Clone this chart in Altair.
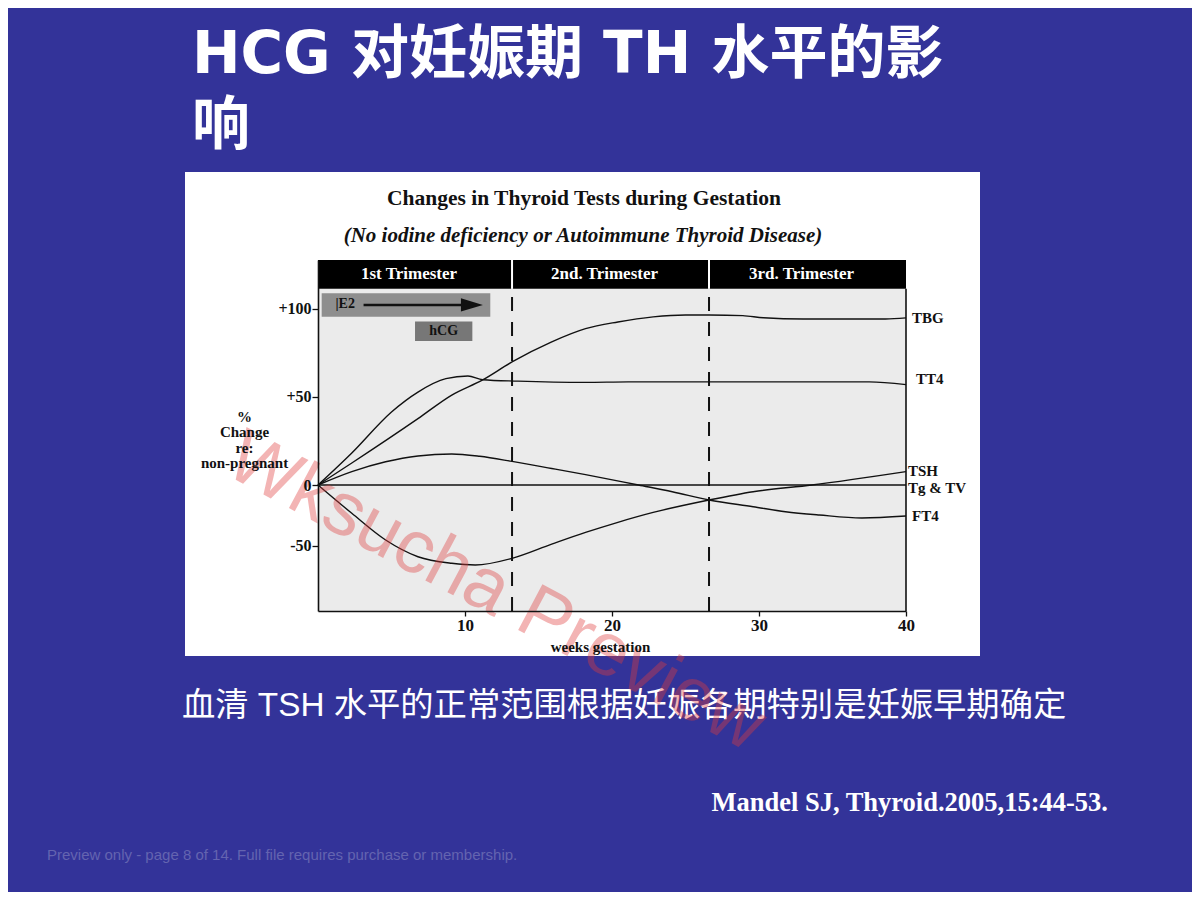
import altair as alt
import pandas as pd

# ---------------- data ----------------
series_names = ["TBG", "TT4", "TSH", "FT4", "Tg & TV"]

tbg_weeks = [0, 2.3, 6.8, 9.1, 11.2, 13.2, 15.9, 18.2, 20.4, 22.8, 25.0, 26.6, 28.9, 30.3, 33.0, 38.6, 40]
tbg_vals = [0, 12.5, 37.7, 51.1, 59.7, 69.9, 81.3, 88.8, 92.6, 95.5, 96.6, 96.6, 96.2, 95.0, 94.3, 94.3, 94.9]

tt4_weeks = [0, 2.3, 5.0, 6.8, 8.7, 10.2, 11.2, 13.6, 18.2, 21.1, 37.5, 40]
tt4_vals = [0, 18.2, 41.5, 52.8, 60.4, 61.9, 59.8, 59.0, 58.3, 58.6, 58.6, 57.0]

tsh_weeks = [0, 2.3, 4.6, 6.8, 9.1, 10.7, 13.2, 15.9, 18.2, 20.4, 22.8, 26.6, 29.6, 33.6, 40]
tsh_vals = [0, -23.2, -45.1, -58.8, -64.2, -65.6, -60.1, -48.5, -38.9, -30.6, -22.5, -12.3, -5.5, 0, 7.6]

ft4_weeks = [0, 2.3, 4.6, 6.8, 9.1, 11.0, 13.2, 15.9, 18.2, 21.8, 24.1, 26.6, 29.6, 31.8, 34.1, 37.0, 40]
ft4_vals = [0, 7.6, 13.2, 16.5, 17.6, 16.3, 13.4, 9.4, 5.9, 0, -5.5, -12.3, -17.8, -21.9, -24.6, -27.0, -25.4]

tg_weeks = [0, 40]
tg_vals = [0, 0]

trimester_labels = ["1st Trimester", "2nd. Trimester", "3rd. Trimester"]
trimester_start = [0, 13.2, 26.6]
trimester_end = [13.2, 26.6, 40]
trimester_bounds = [13.2, 26.6]

y_ticks = [-50, 0, 50, 100]
x_ticks = [10, 20, 30, 40]
y_min, y_zero, y_head, y_max = -103.3, 0, 111.4, 127.8

# hormone boxes (weeks, % change)
e2_box = {"x": 0.25, "x2": 11.72, "y": 95.6, "y2": 108.9}
hcg_box = {"x": 6.6, "x2": 10.5, "y": 81.8, "y2": 92.8}
e2_arrow = {"x": 3.1, "x2": 10.0, "y": 102.3, "head": 10.47}

slide_title = "HCG 对妊娠期 TH 水平的影\n响"
chart_title = "Changes in Thyroid Tests during Gestation"
chart_subtitle = "(No iodine deficiency or Autoimmune Thyroid Disease)"
slide_note = "血清 TSH 水平的正常范围根据妊娠各期特别是妊娠早期确定"
citation = "Mandel SJ, Thyroid.2005,15:44-53."
footer = "Preview only - page 8 of 14. Full file requires purchase or membership."
watermark = "Wksucha Preview"

# ---------------- tables ----------------
rows = []
for name, ws, vs in [("TBG", tbg_weeks, tbg_vals), ("TT4", tt4_weeks, tt4_vals),
                     ("TSH", tsh_weeks, tsh_vals), ("FT4", ft4_weeks, ft4_vals),
                     ("Tg & TV", tg_weeks, tg_vals)]:
    for w, v in zip(ws, vs):
        rows.append({"series": name, "w": w, "v": v})
curves = pd.DataFrame(rows)

ends = {"TBG": tbg_vals[-1], "TT4": tt4_vals[-1], "TSH": tsh_vals[-1],
        "FT4": ft4_vals[-1], "Tg & TV": tg_vals[-1]}
labels = pd.DataFrame({"series": series_names,
                       "w": [40] * len(series_names),
                       "v": [ends[s] for s in series_names]})

tri = pd.DataFrame({"label": trimester_labels, "x": trimester_start, "x2": trimester_end,
                    "mid": [(a + b) / 2 for a, b in zip(trimester_start, trimester_end)],
                    "y": [y_head] * 3, "y2": [y_max] * 3, "ym": [(y_head + y_max) / 2] * 3})
bounds = pd.DataFrame({"w": trimester_bounds, "y": [y_min] * 2, "y2": [y_head] * 2,
                       "yh": [y_head] * 2, "yh2": [y_max] * 2})
frame = pd.DataFrame({"x": [0], "x2": [40], "y": [y_min], "y2": [y_head]})
boxes = pd.DataFrame([dict(e2_box, name="E2"), dict(hcg_box, name="hCG")])
arrow = pd.DataFrame([e2_arrow])
box_text = pd.DataFrame({"t": ["|E2", "hCG"], "w": [1.85, 8.55], "v": [103.0, 87.3]})

SERIF = "Liberation Serif"
xs = alt.Scale(domain=[0, 40], nice=False, zero=False)
ys = alt.Scale(domain=[y_min, y_zero, y_max], range=[351, 225, 0], nice=False, zero=False)

x_axis = alt.Axis(
    values=x_ticks, grid=False, domainColor="#111", domainWidth=1.6, tickColor="#111",
    tickSize=5, tickWidth=1.3, labelFlush=False, labelFont=SERIF, labelFontWeight="bold",
    labelFontSize=17, labelColor="#111", labelPadding=1, title="weeks gestation",
    titleFont=SERIF, titleFontWeight="bold", titleFontSize=15, titleColor="#111",
    titleX=282, titleY=35, titleAlign="center", titleBaseline="middle", zindex=2)
y_axis = alt.Axis(
    values=y_ticks, grid=False, domainColor="#111", domainWidth=1.6, tickColor="#111",
    tickSize=6, tickWidth=1.3, labelFlush=False, labelFont=SERIF, labelFontWeight="bold",
    labelFontSize=16, labelColor="#111", labelPadding=1,
    labelExpr="datum.value > 0 ? '+' + datum.value : '' + datum.value",
    title=["%", "Change", "re:", "non-pregnant"], titleFont=SERIF, titleFontWeight="bold",
    titleFontSize=15, titleColor="#111", titleAngle=0, titleX=-74, titleY=156,
    titleAlign="center", titleBaseline="middle", titleLineHeight=15.5, zindex=2)


def X(f):
    return alt.X(f, type="quantitative", scale=xs, axis=x_axis)


def Y(f):
    return alt.Y(f, type="quantitative", scale=ys, axis=y_axis)


def one(t):
    return pd.DataFrame({"t": [t]})


# white chart box
white_box = alt.Chart(one("")).mark_rect(color="white").encode(
    x=alt.value(-133), x2=alt.value(662), y=alt.value(-88), y2=alt.value(396))

plot_bg = alt.Chart(frame).mark_rect(color="#ebebeb").encode(
    x=X("x"), x2="x2", y=Y("y"), y2="y2")

header = alt.Chart(tri).mark_rect(color="black").encode(
    x=X("x"), x2="x2", y=Y("y"), y2="y2")
header_div = alt.Chart(bounds).mark_rule(color="white", strokeWidth=2).encode(
    x=X("w"), y=Y("yh"), y2="yh2")
header_txt = alt.Chart(tri).mark_text(color="white", font=SERIF, fontWeight="bold",
                                      fontSize=17, dx=-6).encode(
    x=X("mid"), y=Y("ym"), text="label:N")

box_rects = alt.Chart(boxes).mark_rect().encode(
    x=X("x"), x2="x2", y=Y("y"), y2="y2",
    color=alt.Color("name:N", scale=alt.Scale(domain=["E2", "hCG"], range=["#8e8e8e", "#777777"]),
                    legend=None))
box_txt = alt.Chart(box_text).mark_text(color="#111", font=SERIF, fontWeight="bold",
                                        fontSize=14).encode(x=X("w"), y=Y("v"), text="t:N")
arrow_line = alt.Chart(arrow).mark_rule(color="#111", strokeWidth=2.5).encode(
    x=X("x"), x2="x2", y=Y("y"))
arrow_head = alt.Chart(arrow).mark_point(shape="M-1,-0.6L1,0L-1,0.6Z", filled=True,
                                         color="#111", opacity=1, size=484).encode(
    x=X("head"), y=Y("y"))

dashed = alt.Chart(bounds).mark_rule(color="#111", strokeWidth=2, strokeDash=[14, 11]).encode(
    x=X("w"), y=Y("y"), y2="y2")

lines = alt.Chart(curves).mark_line(interpolate="monotone", color="#111", strokeWidth=1.4).encode(
    x=X("w"), y=Y("v"), detail="series:N")

right_border = alt.Chart(frame).mark_rule(color="#111", strokeWidth=1.6).encode(
    x=X("x2"), y=Y("y"), y2="y2")


def end_label(names, dx, dy):
    flt = " || ".join("datum.series == '%s'" % n for n in names)
    return alt.Chart(labels).transform_filter(flt).mark_text(
        align="left", dx=dx, dy=dy, font=SERIF, fontWeight="bold", fontSize=15,
        color="#111").encode(x=X("w"), y=Y("v"), text="series:N")


lbl_main = end_label(["TBG", "FT4"], 6, 0)
lbl_tt4 = end_label(["TT4"], 10, -6)
lbl_tsh = end_label(["TSH"], 2, -1)
lbl_tg = end_label(["Tg & TV"], 2, 3)

# texts around the chart
t_title = alt.Chart(one(slide_title)).mark_text(
    align="left", baseline="alphabetic", fontSize=58, fontWeight="bold", color="white",
    font="DejaVu Sans, Noto Sans CJK SC", lineBreak="\n", lineHeight=71).encode(
    x=alt.value(-126), y=alt.value(-187), text="t:N")
t_ctitle = alt.Chart(one(chart_title)).mark_text(
    align="center", baseline="alphabetic", fontSize=21.5, fontWeight="bold", color="#111",
    font=SERIF).encode(x=alt.value(266), y=alt.value(-55), text="t:N")
t_csub = alt.Chart(one(chart_subtitle)).mark_text(
    align="center", baseline="alphabetic", fontSize=21, fontWeight="bold", fontStyle="italic",
    color="#111", font=SERIF).encode(x=alt.value(265), y=alt.value(-18), text="t:N")
t_note = alt.Chart(one(slide_note)).mark_text(
    align="left", baseline="alphabetic", fontSize=33.3, color="white",
    font="Liberation Sans, Noto Sans CJK SC").encode(x=alt.value(-136), y=alt.value(456), text="t:N")
t_cite = alt.Chart(one(citation)).mark_text(
    align="right", baseline="alphabetic", fontSize=26.5, fontWeight="bold", color="white",
    font=SERIF).encode(x=alt.value(790), y=alt.value(551), text="t:N")
t_foot = alt.Chart(one(footer)).mark_text(
    align="left", baseline="alphabetic", fontSize=15, color="#6464b0",
    font="Liberation Sans").encode(x=alt.value(-271), y=alt.value(600), text="t:N")
t_wm = alt.Chart(one(watermark)).mark_text(
    align="center", baseline="middle", fontSize=75, color="#e03c3c", opacity=0.38, angle=28,
    font="Liberation Sans").encode(x=alt.value(178), y=alt.value(332), text="t:N")

chart = alt.layer(
    white_box, plot_bg, header, header_div, header_txt, box_rects, box_txt, arrow_line,
    arrow_head, dashed, lines, right_border, lbl_main, lbl_tt4, lbl_tsh, lbl_tg,
    t_title, t_ctitle, t_csub, t_note, t_cite, t_foot, t_wm
).properties(
    width=588, height=351,
    autosize=alt.AutoSizeParams(type="none"),
    padding={"left": 310, "top": 252, "right": 286, "bottom": 281},
    background="#333399",
).configure_view(strokeWidth=0)

chart.save("out.html", embed_options={"renderer": "svg", "actions": False})
